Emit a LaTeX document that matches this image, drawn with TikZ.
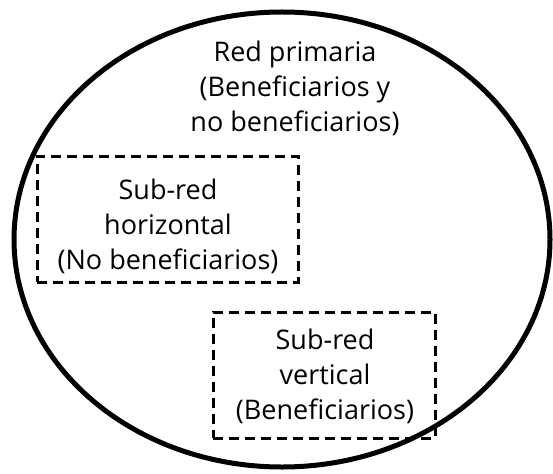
\documentclass[tikz,border=0pt]{standalone}
\usepackage{fontspec}
\setmainfont{Open Sans}
\usetikzlibrary{shapes.geometric}
\begin{document}
\begin{tikzpicture}[x=1pt,y=-1pt,
  lbl/.style={align=center,font=\fontsize{27}{35}\selectfont,inner sep=0pt},
  dbox/.style={draw,line width=3pt,dash pattern=on 10pt off 6pt}]
\useasboundingbox (0,0) rectangle (553,473);
\node[draw,line width=5pt,ellipse,minimum width=536pt,minimum height=455pt,inner sep=0pt] (net) at (282,239.5) {};
\node[dbox,minimum width=261pt,minimum height=126pt,inner sep=0pt] (hbox) at (167.5,219) {};
\node[dbox,minimum width=222pt,minimum height=126pt,inner sep=0pt] (vbox) at (324,375) {};
\node[lbl] (tmain) at (295,88) {Red primaria\\(Beneficiarios y\\no beneficiarios)};
\node[lbl] (thor) at (168,226) {Sub-red\\horizontal\\(No beneficiarios)};
\node[lbl] (tver) at (325,376) {Sub-red\\vertical\\(Beneficiarios)};
\end{tikzpicture}
\end{document}
